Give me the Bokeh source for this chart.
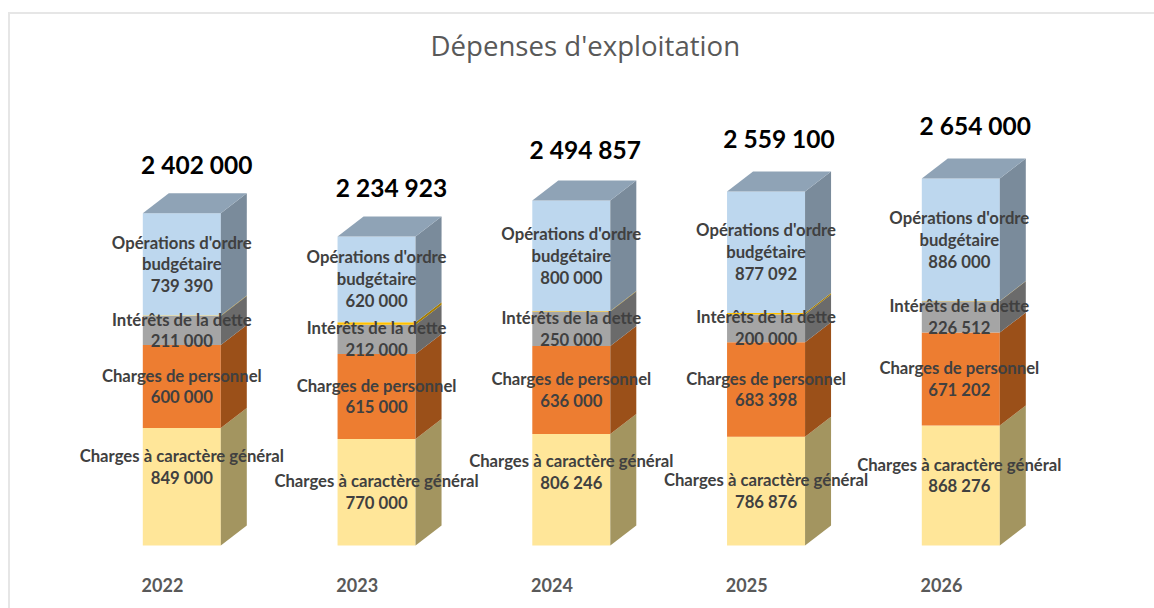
from bokeh.plotting import figure
from bokeh.models import FixedTicker, ColumnDataSource, Range1d
from bokeh.core.properties import value
from bokeh.embed import file_html
from bokeh.resources import INLINE

years = ["2022", "2023", "2024", "2025", "2026"]
totals = ["2 402 000", "2 234 923", "2 494 857", "2 559 100", "2 654 000"]
charges_general = [849000, 770000, 806246, 786876, 868276]
charges_personnel = [600000, 615000, 636000, 683398, 671202]
interets = [211000, 212000, 250000, 200000, 226512]
autres = [2610, 17923, 2611, 11734, 2010]
operations = [739390, 620000, 800000, 877092, 886000]

fmt = lambda v: f"{v:,}".replace(",", " ")

series = [
    ("Charges à caractère général", charges_general, "#FFE699", "#A39560", True),
    ("Charges de personnel", charges_personnel, "#ED7D31", "#9B5019", True),
    ("Intérêts de la dette", interets, "#A5A5A5", "#6B6B6B", True),
    ("", autres, "#FFC000", "#A67D00", False),
    ("Opérations d'ordre\nbudgétaire", operations, "#BDD7EE", "#7A8B9B", True),
]

PX_X = 194.75
PX_Y = 0.0001383
DX = 26 / PX_X
DY = 20 / PX_Y
BAR = 78 / PX_X
SHIFT = 19.3 / PX_X
FONT = "Lato"

p = figure(width=1154, height=608, output_backend="svg", toolbar_location=None,
           x_range=Range1d((0 - 162) / PX_X, (1154 - 162) / PX_X),
           y_range=Range1d(-18 / PX_Y, (545 - 68) / PX_Y),
           min_border_left=0, min_border_right=0, min_border_top=68, min_border_bottom=45,
           title="Dépenses d'exploitation")
p.title.align = "left"
p.title.offset = 430
p.title.text_font = "Open Sans"
p.title.text_font_size = "27.6px"
p.title.text_font_style = "normal"
p.title.text_color = "#595959"
p.outline_line_color = None
p.background_fill_color = None
p.border_fill_color = None
p.grid.visible = False
p.yaxis.visible = False
ax = p.xaxis[0]
ax.ticker = FixedTicker(ticks=list(range(len(years))))
ax.major_label_overrides = {i: y for i, y in enumerate(years)}
ax.axis_line_color = None
ax.major_tick_line_color = None
ax.minor_tick_line_color = None
ax.major_label_text_font = FONT
ax.major_label_text_font_style = "bold"
ax.major_label_text_font_size = "18px"
ax.major_label_text_color = "#595959"
ax.major_label_standoff = 8

# thin frame of the original picture (top and left edges only)
p.styles = {
    "background-image": "linear-gradient(#E6E6E6,#E6E6E6),linear-gradient(#E6E6E6,#E6E6E6)",
    "background-size": "100% 2px,2px 100%",
    "background-position": "8px 11.5px,8px 11.5px",
    "background-repeat": "no-repeat",
}

bottoms = [0] * len(years)
xc = [i + SHIFT for i in range(len(years))]
for name, vals, front, side, labelled in series:
    tops = [b + v for b, v in zip(bottoms, vals)]
    p.vbar(x=xc, bottom=bottoms, top=tops, width=BAR, fill_color=front, line_color=None)
    xs = [[x + BAR / 2, x + BAR / 2 + DX, x + BAR / 2 + DX, x + BAR / 2] for x in xc]
    ys = [[b, b + DY, t + DY, t] for b, t in zip(bottoms, tops)]
    p.patches(xs, ys, fill_color=side, line_color=None)
    bottoms = tops

stack = bottoms
p.patches([[x - BAR / 2, x + BAR / 2, x + BAR / 2 + DX, x - BAR / 2 + DX] for x in xc],
          [[t, t, t + DY, t + DY] for t in stack],
          fill_color="#8FA3B6", line_color=None)

# segment labels
nudge = [-19.5, 0, -17.5, 0, -10]
nudge_x = [0, 0, 0, 0, -1.5]
bottoms = [0] * len(years)
for s, (name, vals, front, side, labelled) in enumerate(series):
    if labelled:
        src = ColumnDataSource(dict(
            x=xc,
            y=[b + v / 2 for b, v in zip(bottoms, vals)],
            t=[f"{name}\n{fmt(v)}" for v in vals],
            o=nudge if s == 0 else [0] * len(years),
            ox=nudge_x,
        ))
        p.text("x", "y", text="t", x_offset="ox", y_offset="o", source=src, text_align="center",
               text_baseline="middle", text_font=value(FONT), text_font_size="16.7px",
               text_font_style="bold", text_color="#404040", text_line_height=1.09)
    bottoms = [b + v for b, v in zip(bottoms, vals)]

# totals above each column
total_src = ColumnDataSource(dict(
    x=[x + DX / 2 + 0.01 for x in xc],
    y=[t + DY for t in stack],
    t=totals,
    ox=[0, 0, -1, -2, -0.5],
    oy=[-29, -29, -31, -33, -33],
))
p.text("x", "y", text="t", x_offset="ox", y_offset="oy", source=total_src,
       text_align="center", text_baseline="middle",
       text_font=value(FONT), text_font_size="24.5px", text_font_style="bold", text_color="#000000")

open("out.html", "w").write(file_html(p, INLINE))
